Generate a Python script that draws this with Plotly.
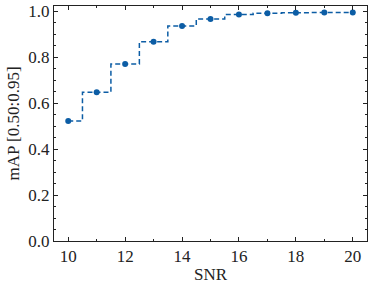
import plotly.graph_objects as go

snr = [10, 11, 12, 13, 14, 15, 16, 17, 18, 19, 20]
map_vals = [0.522, 0.647, 0.770, 0.866, 0.935, 0.966, 0.985, 0.991, 0.993, 0.994, 0.994]
x_ticks = [10, 12, 14, 16, 18, 20]
y_ticks = [0.0, 0.2, 0.4, 0.6, 0.8, 1.0]

color = "#0C5DA5"
font = "Liberation Serif"
fsize = 17

fig = go.Figure()
fig.add_trace(go.Scatter(
    x=snr, y=map_vals, mode="lines",
    line=dict(shape="hvh", color=color, width=1.5, dash="5px,3px"),
    showlegend=False, hoverinfo="skip", cliponaxis=False))
fig.add_trace(go.Scatter(
    x=snr, y=map_vals, mode="markers",
    marker=dict(color=color, size=6),
    showlegend=False, cliponaxis=False))

axis_common = dict(
    showgrid=False, zeroline=False, showline=True, linecolor="#222", linewidth=1,
    mirror="allticks", ticks="inside", ticklen=4, tickwidth=0.8, tickcolor="#222",
    tickfont=dict(family=font, size=fsize, color="#222"), automargin=False,
)
fig.update_xaxes(
    range=[9.5, 20.5], tickvals=x_ticks, ticktext=[str(v) for v in x_ticks],
    minor=dict(ticks="inside", ticklen=2, tickwidth=0.6, tickcolor="#222", dtick=1, tick0=0),
    title=dict(text="SNR", font=dict(family=font, size=fsize, color="#222"), standoff=2),
    **axis_common)
fig.update_yaxes(
    range=[0, 1.022], tickvals=y_ticks, ticktext=[f"{v:.1f}" for v in y_ticks],
    minor=dict(ticks="inside", ticklen=2, tickwidth=0.6, tickcolor="#222", dtick=0.05, tick0=0),
    title=dict(text="mAP [0.50:0.95]", font=dict(family=font, size=fsize, color="#222"), standoff=4),
    **axis_common)
fig.update_layout(
    width=373, height=287,
    margin=dict(l=54, r=6, t=6, b=46, autoexpand=False),
    paper_bgcolor="white", plot_bgcolor="white",
)
fig.write_html("out.html", config={"displayModeBar": False},
               post_script="document.body.style.margin='0';document.body.style.overflow='hidden';")
